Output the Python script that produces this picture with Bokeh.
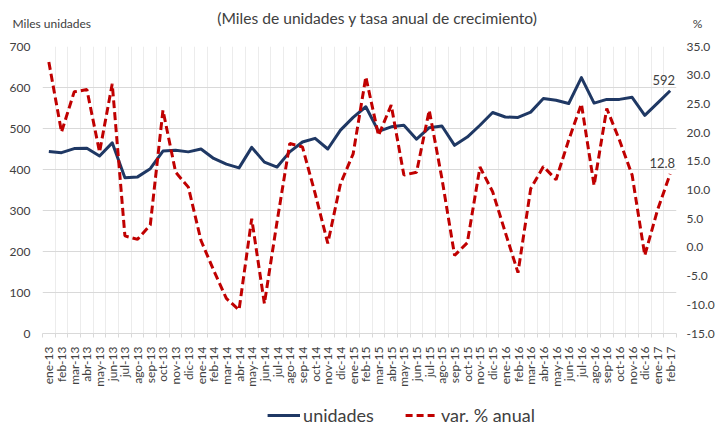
import math
from bokeh.plotting import figure
from bokeh.layouts import column
from bokeh.models import (Range1d, LinearAxis, FixedTicker, NumeralTickFormatter,
                          Legend, LegendItem, ColumnDataSource)
from bokeh.core.properties import value
from bokeh.embed import file_html
from bokeh.resources import INLINE

months = ["ene-13", "feb-13", "mar-13", "abr-13", "may-13", "jun-13", "jul-13", "ago-13", "sep-13", "oct-13", "nov-13", "dic-13",
          "ene-14", "feb-14", "mar-14", "abr-14", "may-14", "jun-14", "jul-14", "ago-14", "sep-14", "oct-14", "nov-14", "dic-14",
          "ene-15", "feb-15", "mar-15", "abr-15", "may-15", "jun-15", "jul-15", "ago-15", "sep-15", "oct-15", "nov-15", "dic-15",
          "ene-16", "feb-16", "mar-16", "abr-16", "may-16", "jun-16", "jul-16", "ago-16", "sep-16", "oct-16", "nov-16", "dic-16",
          "ene-17", "feb-17"]

units = [444, 441, 451, 452, 433, 465, 380, 382, 402, 445, 447, 443,
         450, 427, 413, 404, 454, 418, 406, 443, 467, 476, 450, 496,
         527, 553, 493, 504, 508, 474, 502, 506, 459, 479, 508, 539,
         528, 527, 540, 573, 569, 561, 624, 562, 571, 571, 576, 532,
         562, 592]

pct = [32.3, 20.1, 27.1, 27.5, 16.6, 28.5, 2.0, 1.4, 3.9, 23.9, 13.1, 10.5,
       1.2, -4.0, -8.9, -10.9, 5.0, -9.8, 4.5, 18.1, 17.5, 9.4, 0.7, 11.1,
       16.3, 29.7, 19.5, 24.8, 12.6, 13.1, 23.9, 12.0, -1.4, 0.8, 14.0, 9.7,
       2.6, -4.4, 10.2, 14.1, 11.8, 18.7, 25.0, 10.8, 24.2, 18.7, 12.6, -1.4,
       6.5, 12.8]

left_ticks = [0, 100, 200, 300, 400, 500, 600, 700]
right_ticks = [-15, -10, -5, 0, 5, 10, 15, 20, 25, 30, 35]

title_text = "(Miles de unidades y tasa anual de crecimiento)"
left_unit = "Miles unidades"
right_unit = "%"
series_names = ["unidades", "var. % anual"]

FONT = "Lato"
TXT = "#404040"
GRID = "#d9d9d9"
BLUE = "#1f3864"
RED = "#c00000"
W = 726


def no_align(f):
    if "frame_align" in f.properties():
        f.frame_align = False
    return f


def blank_fig(h, left=0, top_border=0):
    f = figure(width=W, height=h, output_backend="svg", toolbar_location=None,
               x_range=Range1d(0, W - left), y_range=Range1d(h - top_border, 0),
               x_axis_type=None, y_axis_type=None,
               min_border_left=left, min_border_right=0, min_border_top=top_border,
               min_border_bottom=0)
    f.title.visible = False
    f.outline_line_color = None
    f.xgrid.visible = False
    f.ygrid.visible = False
    f.background_fill_color = "white"
    f.border_fill_color = "white"
    return no_align(f)


# ---- header with titles ----
top = blank_fig(36)
top.text(x=[377], y=[17], text=[title_text], text_align="center", text_baseline="middle",
         text_font=value(FONT), text_font_size="15.6px", text_color=TXT)
top.text(x=[12], y=[23], text=[left_unit], text_align="left", text_baseline="middle",
         text_font=value(FONT), text_font_size="12px", text_color=TXT)
top.text(x=[697], y=[23], text=[right_unit], text_align="center", text_baseline="middle",
         text_font=value(FONT), text_font_size="12px", text_color=TXT)

# ---- main chart ----
n = len(months)
xs = list(range(n))
src = ColumnDataSource(dict(x=xs, units=units, pct=pct))

p = figure(width=W, height=364, output_backend="svg", toolbar_location=None,
           x_range=Range1d(-0.5, n - 0.5), y_range=Range1d(left_ticks[0], left_ticks[-1]),
           min_border_left=42, min_border_right=50, min_border_top=10, min_border_bottom=67)
no_align(p)
p.title.visible = False
p.outline_line_color = None
p.background_fill_color = "white"
p.border_fill_color = "white"
p.extra_y_ranges = {"pct": Range1d(right_ticks[0], right_ticks[-1])}

bounds = [i - 0.5 for i in range(n + 1)]
p.xaxis.ticker = FixedTicker(ticks=xs, minor_ticks=bounds)
p.xaxis.major_label_overrides = {i: m for i, m in enumerate(months)}
p.xaxis.major_label_orientation = math.pi / 2
p.xaxis.axis_line_color = GRID
p.xaxis.major_tick_line_color = None
p.xaxis.major_tick_out = 0
p.xaxis.major_tick_in = 0
p.xaxis.minor_tick_line_color = GRID
p.xaxis.minor_tick_out = 4
p.xaxis.minor_tick_in = 0
p.xaxis.major_label_standoff = 9
p.xaxis.major_label_text_font = FONT
p.xaxis.major_label_text_font_size = "12px"
p.xaxis.major_label_text_color = TXT

p.xgrid.ticker = FixedTicker(ticks=bounds[1:-1])
p.xgrid.grid_line_color = "#ececec"
p.ygrid.ticker = FixedTicker(ticks=left_ticks)
p.ygrid.grid_line_color = GRID

p.yaxis.ticker = FixedTicker(ticks=left_ticks)
p.yaxis.axis_line_color = None
p.yaxis.major_tick_line_color = None
p.yaxis.minor_tick_line_color = None
p.yaxis.major_tick_out = 0
p.yaxis.major_tick_in = 0
p.yaxis.major_label_standoff = 12
p.yaxis.major_label_text_font = FONT
p.yaxis.major_label_text_font_size = "12px"
p.yaxis.major_label_text_color = TXT

ax = LinearAxis(y_range_name="pct", ticker=FixedTicker(ticks=right_ticks),
                formatter=NumeralTickFormatter(format="0.0"))
ax.axis_line_color = None
ax.major_tick_line_color = None
ax.minor_tick_line_color = None
ax.major_tick_out = 0
ax.major_tick_in = 0
ax.major_label_standoff = 10
ax.major_label_text_font = FONT
ax.major_label_text_font_size = "12px"
ax.major_label_text_color = TXT
p.add_layout(ax, "right")

r1 = p.line("x", "units", source=src, line_color=BLUE, line_width=3, line_join="round")
r2 = p.line("x", "pct", source=src, y_range_name="pct", line_color=RED,
            line_width=3, line_dash="8 4")

p.text(x=[xs[-1]], y=[units[-1]], text=[f"{units[-1]:.0f}"], x_offset=5, y_offset=-6,
       text_align="right", text_baseline="bottom", text_font=value(FONT),
       text_font_size="13px", text_color=TXT)
p.text(x=[xs[-1]], y=[pct[-1]], text=[f"{pct[-1]:.1f}"], x_offset=5, y_offset=-6,
       y_range_name="pct", text_align="right", text_baseline="bottom",
       text_font=value(FONT), text_font_size="13px", text_color=TXT)

# ---- legend strip (renderers hidden, used only for the legend samples) ----
leg = blank_fig(25, left=76, top_border=5)
l1 = leg.line(x=xs, y=units, line_color=BLUE, line_width=3, visible=False)
l2 = leg.line(x=xs, y=pct, line_color=RED, line_width=3, line_dash="7 4", visible=False)
legend = Legend(items=[LegendItem(label=series_names[0], renderers=[l1]),
                       LegendItem(label=series_names[1], renderers=[l2])],
                orientation="horizontal", location="center")
legend.border_line_color = None
legend.background_fill_alpha = 0
legend.inactive_fill_alpha = 0
legend.padding = 0
legend.margin = 0
legend.spacing = 31
legend.glyph_width = 33
legend.glyph_height = 18
legend.label_height = 18
legend.label_standoff = 3
legend.label_text_font = FONT
legend.label_text_font_size = "18px"
legend.label_text_color = TXT
leg.add_layout(legend)

layout = column(top, p, leg, spacing=0)
open("out.html", "w").write(file_html(layout, INLINE))
